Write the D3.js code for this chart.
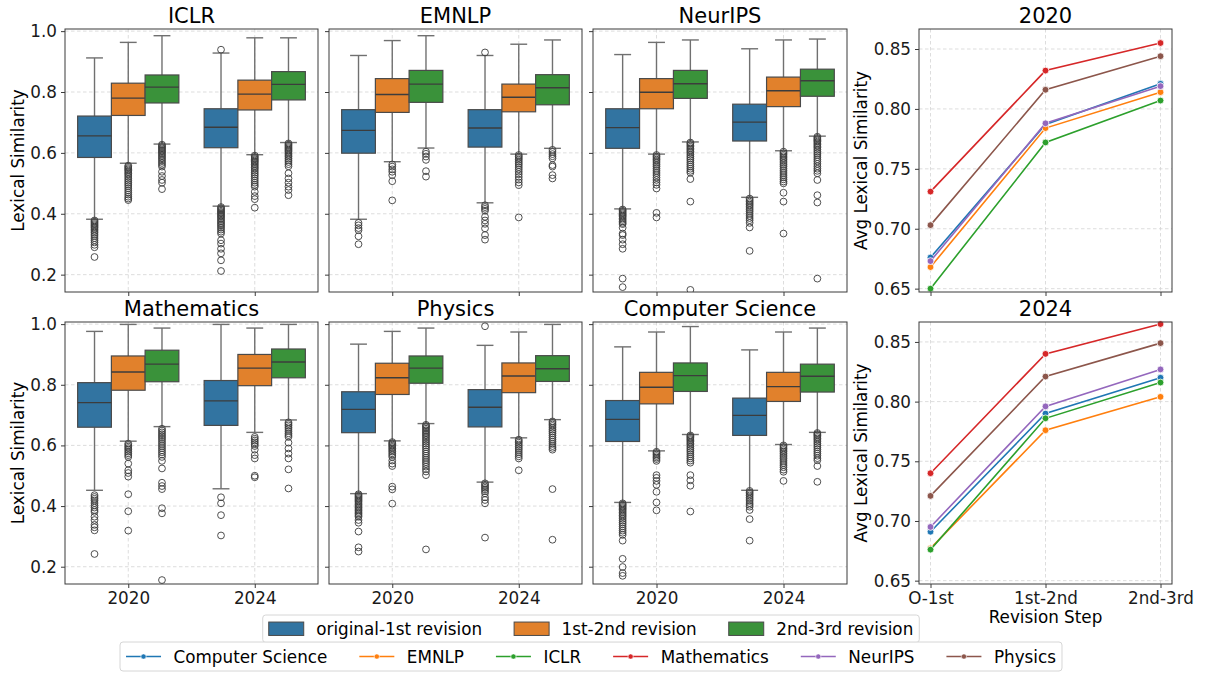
<!DOCTYPE html>
<html>
<head>
<meta charset="utf-8">
<script src="https://cdn.jsdelivr.net/npm/d3@7"></script>
<style>
  html, body { margin: 0; padding: 0; background: #fff; }
  svg { display: block; font-family: "DejaVu Sans", sans-serif; }
</style>
</head>
<body>
<svg id="chart" width="1205" height="673"></svg>
<script>
// ---- data -------------------------------------------------------------
const years = ["2020", "2024"];
const revisions = ["original-1st revision", "1st-2nd revision", "2nd-3rd revision"];
const venues = ["ICLR", "EMNLP", "NeurIPS", "Mathematics", "Physics", "Computer Science"];

// box stats per group: [whiskerLow, q1, median, q3, whiskerHigh]
// group order: 2020 × (rev1, rev2, rev3), 2024 × (rev1, rev2, rev3)
const iclrBoxes = [
  [0.382, 0.585, 0.656, 0.721, 0.912], [0.566, 0.723, 0.780, 0.829, 0.963], [0.629, 0.764, 0.816, 0.856, 0.985],
  [0.425, 0.617, 0.684, 0.745, 0.928], [0.594, 0.741, 0.793, 0.839, 0.978], [0.634, 0.774, 0.825, 0.867, 0.978]
];
const iclrFliers = [
  [0.378, 0.374, 0.370, 0.366, 0.362, 0.358, 0.354, 0.349, 0.344, 0.339, 0.333, 0.327, 0.320, 0.313, 0.306, 0.298, 0.290, 0.258],
  [0.558, 0.554, 0.550, 0.546, 0.542, 0.537, 0.532, 0.527, 0.521, 0.515, 0.509, 0.503, 0.497, 0.491, 0.484, 0.477, 0.470, 0.463, 0.456, 0.450, 0.445],
  [0.627, 0.623, 0.619, 0.615, 0.611, 0.607, 0.603, 0.599, 0.594, 0.589, 0.584, 0.579, 0.573, 0.567, 0.561, 0.555, 0.538, 0.524, 0.511, 0.502, 0.481],
  [0.939, 0.422, 0.418, 0.414, 0.410, 0.406, 0.402, 0.398, 0.394, 0.390, 0.385, 0.380, 0.375, 0.370, 0.365, 0.360, 0.354, 0.348, 0.341, 0.335, 0.313, 0.302, 0.285, 0.270, 0.247, 0.212],
  [0.591, 0.587, 0.583, 0.579, 0.575, 0.571, 0.567, 0.562, 0.557, 0.552, 0.547, 0.541, 0.535, 0.529, 0.523, 0.516, 0.509, 0.502, 0.495, 0.489, 0.472, 0.458, 0.448, 0.420],
  [0.631, 0.627, 0.623, 0.619, 0.615, 0.611, 0.607, 0.603, 0.598, 0.593, 0.588, 0.582, 0.576, 0.570, 0.563, 0.556, 0.533, 0.516, 0.502, 0.489, 0.478, 0.461]
];

const emnlpBoxes = [
  [0.382, 0.599, 0.674, 0.742, 0.920], [0.571, 0.733, 0.792, 0.844, 0.969], [0.616, 0.766, 0.826, 0.871, 0.985],
  [0.436, 0.619, 0.682, 0.742, 0.920], [0.596, 0.735, 0.783, 0.826, 0.957], [0.615, 0.758, 0.814, 0.857, 0.971]
];
const emnlpFliers = [
  [0.370, 0.362, 0.353, 0.346, 0.326, 0.300],
  [0.562, 0.555, 0.546, 0.538, 0.527, 0.507, 0.444],
  [0.604, 0.597, 0.588, 0.577, 0.540, 0.522],
  [0.930, 0.428, 0.422, 0.416, 0.410, 0.390, 0.378, 0.367, 0.352, 0.330, 0.315],
  [0.593, 0.588, 0.583, 0.578, 0.572, 0.566, 0.560, 0.553, 0.546, 0.538, 0.530, 0.521, 0.512, 0.503, 0.494, 0.388],
  [0.610, 0.603, 0.596, 0.589, 0.582, 0.560, 0.555, 0.527, 0.516]
];

const neuripsBoxes = [
  [0.416, 0.615, 0.683, 0.745, 0.923], [0.596, 0.745, 0.799, 0.844, 0.963], [0.636, 0.779, 0.827, 0.871, 0.971],
  [0.454, 0.639, 0.701, 0.760, 0.942], [0.607, 0.752, 0.804, 0.849, 0.971], [0.655, 0.786, 0.837, 0.875, 0.974]
];
const neuripsFliers = [
  [0.414, 0.410, 0.406, 0.402, 0.398, 0.394, 0.390, 0.385, 0.380, 0.375, 0.370, 0.366, 0.354, 0.335, 0.330, 0.315, 0.300, 0.285, 0.187, 0.159],
  [0.593, 0.588, 0.583, 0.578, 0.573, 0.567, 0.561, 0.555, 0.548, 0.541, 0.534, 0.527, 0.519, 0.511, 0.503, 0.495, 0.483, 0.403, 0.388],
  [0.634, 0.630, 0.625, 0.620, 0.615, 0.610, 0.605, 0.600, 0.594, 0.588, 0.582, 0.576, 0.569, 0.562, 0.555, 0.548, 0.541, 0.535, 0.514, 0.440, 0.150],
  [0.450, 0.445, 0.440, 0.435, 0.430, 0.425, 0.419, 0.413, 0.407, 0.400, 0.393, 0.386, 0.379, 0.370, 0.355, 0.278],
  [0.604, 0.599, 0.594, 0.589, 0.584, 0.579, 0.573, 0.567, 0.561, 0.555, 0.548, 0.541, 0.534, 0.527, 0.520, 0.513, 0.506, 0.500, 0.469, 0.440, 0.335],
  [0.653, 0.649, 0.645, 0.641, 0.637, 0.632, 0.627, 0.622, 0.617, 0.611, 0.605, 0.599, 0.593, 0.586, 0.579, 0.572, 0.564, 0.556, 0.548, 0.541, 0.533, 0.511, 0.461, 0.437, 0.187]
];

const mathBoxes = [
  [0.452, 0.660, 0.741, 0.807, 0.976], [0.614, 0.782, 0.842, 0.895, 0.999], [0.662, 0.810, 0.868, 0.914, 0.987],
  [0.457, 0.666, 0.747, 0.814, 0.999], [0.643, 0.797, 0.855, 0.900, 0.987], [0.684, 0.823, 0.875, 0.918, 0.999]
];
const mathFliers = [
  [0.436, 0.430, 0.424, 0.418, 0.410, 0.402, 0.395, 0.387, 0.381, 0.365, 0.354, 0.338, 0.330, 0.320, 0.242],
  [0.606, 0.601, 0.596, 0.591, 0.586, 0.580, 0.574, 0.568, 0.562, 0.540, 0.518, 0.509, 0.497, 0.439, 0.383, 0.319],
  [0.655, 0.649, 0.643, 0.637, 0.631, 0.625, 0.619, 0.612, 0.605, 0.598, 0.591, 0.584, 0.577, 0.570, 0.562, 0.549, 0.524, 0.477, 0.466, 0.456, 0.393, 0.376, 0.156],
  [0.429, 0.409, 0.370, 0.303],
  [0.628, 0.622, 0.616, 0.610, 0.604, 0.598, 0.586, 0.568, 0.557, 0.500, 0.495],
  [0.676, 0.671, 0.666, 0.660, 0.654, 0.647, 0.640, 0.634, 0.628, 0.609, 0.590, 0.573, 0.557, 0.521, 0.458]
];

const physicsBoxes = [
  [0.441, 0.642, 0.719, 0.777, 0.934], [0.615, 0.768, 0.823, 0.871, 0.976], [0.672, 0.805, 0.855, 0.895, 0.987],
  [0.479, 0.661, 0.726, 0.784, 0.930], [0.625, 0.774, 0.829, 0.872, 0.974], [0.685, 0.811, 0.853, 0.896, 0.999]
];
const physicsFliers = [
  [0.439, 0.435, 0.431, 0.427, 0.423, 0.419, 0.415, 0.410, 0.405, 0.400, 0.395, 0.390, 0.385, 0.380, 0.375, 0.370, 0.365, 0.354, 0.345, 0.316, 0.264, 0.250],
  [0.611, 0.607, 0.603, 0.599, 0.595, 0.590, 0.585, 0.580, 0.574, 0.568, 0.562, 0.550, 0.540, 0.532, 0.464, 0.455, 0.408],
  [0.668, 0.664, 0.660, 0.655, 0.650, 0.645, 0.640, 0.635, 0.630, 0.624, 0.618, 0.612, 0.606, 0.600, 0.594, 0.587, 0.580, 0.573, 0.566, 0.559, 0.552, 0.545, 0.538, 0.530, 0.522, 0.514, 0.502, 0.257],
  [0.993, 0.475, 0.470, 0.465, 0.460, 0.455, 0.449, 0.442, 0.429, 0.420, 0.409, 0.296],
  [0.619, 0.614, 0.609, 0.603, 0.597, 0.591, 0.585, 0.578, 0.571, 0.564, 0.557, 0.518],
  [0.679, 0.674, 0.669, 0.664, 0.658, 0.652, 0.646, 0.640, 0.633, 0.626, 0.619, 0.612, 0.605, 0.598, 0.592, 0.586, 0.456, 0.289]
];

const csBoxes = [
  [0.412, 0.613, 0.686, 0.748, 0.925], [0.582, 0.737, 0.792, 0.841, 0.974], [0.636, 0.778, 0.830, 0.872, 0.992],
  [0.452, 0.633, 0.699, 0.756, 0.915], [0.603, 0.745, 0.794, 0.841, 0.974], [0.643, 0.776, 0.828, 0.868, 0.987]
];
const csFliers = [
  [0.409, 0.405, 0.401, 0.397, 0.393, 0.389, 0.384, 0.379, 0.374, 0.369, 0.364, 0.358, 0.352, 0.346, 0.340, 0.333, 0.326, 0.319, 0.312, 0.305, 0.286, 0.226, 0.199, 0.179, 0.170],
  [0.579, 0.575, 0.570, 0.565, 0.560, 0.555, 0.549, 0.502, 0.493, 0.483, 0.470, 0.447, 0.412, 0.386],
  [0.633, 0.629, 0.625, 0.621, 0.617, 0.612, 0.607, 0.602, 0.596, 0.590, 0.584, 0.578, 0.571, 0.564, 0.557, 0.550, 0.543, 0.502, 0.485, 0.467, 0.382],
  [0.450, 0.445, 0.440, 0.435, 0.429, 0.423, 0.417, 0.410, 0.404, 0.398, 0.387, 0.357, 0.286],
  [0.600, 0.595, 0.590, 0.585, 0.580, 0.574, 0.568, 0.562, 0.556, 0.549, 0.542, 0.535, 0.528, 0.520, 0.513, 0.483],
  [0.641, 0.637, 0.633, 0.628, 0.623, 0.618, 0.612, 0.606, 0.600, 0.594, 0.587, 0.580, 0.573, 0.566, 0.558, 0.551, 0.532, 0.480]
];

const boxTicks = [0.2, 0.4, 0.6, 0.8, 1.0];

// average lexical similarity per revision step
const steps = ["O-1st", "1st-2nd", "2nd-3rd"];
const fields = ["Computer Science", "EMNLP", "ICLR", "Mathematics", "NeurIPS", "Physics"];
const avg2020 = [
  [0.676, 0.787, 0.821],
  [0.668, 0.784, 0.814],
  [0.650, 0.772, 0.807],
  [0.731, 0.832, 0.855],
  [0.673, 0.788, 0.819],
  [0.703, 0.816, 0.844]
];
const avg2024 = [
  [0.691, 0.790, 0.820],
  [0.677, 0.776, 0.804],
  [0.676, 0.786, 0.816],
  [0.740, 0.840, 0.865],
  [0.695, 0.796, 0.827],
  [0.721, 0.821, 0.849]
];
const lineTicks = [0.65, 0.70, 0.75, 0.80, 0.85];

// ---- styling ----------------------------------------------------------
const boxFill = ["#3274a1", "#e1812c", "#3a923a"];
const lineColor = ["#1f77b4", "#ff7f0e", "#2ca02c", "#d62728", "#9467bd", "#8c564b"];
const boxLine = "#4a4a4a";
const whiskerLine = "#707070";
const gridColor = "#d4d4d4";
const spineColor = "#3a3a3a";
const fontSize = 16.8;
const titleSize = 21;

const svg = d3.select("#chart");
const defs = svg.append("defs");

const boxCols = [[65, 318], [329, 582], [593, 847]];
const rowsY = [[29, 292], [322, 584]];
const lineCols = [919, 1172];

const panels = [
  { name: venues[0], boxes: iclrBoxes, fliers: iclrFliers },
  { name: venues[1], boxes: emnlpBoxes, fliers: emnlpFliers },
  { name: venues[2], boxes: neuripsBoxes, fliers: neuripsFliers },
  { name: venues[3], boxes: mathBoxes, fliers: mathFliers },
  { name: venues[4], boxes: physicsBoxes, fliers: physicsFliers },
  { name: venues[5], boxes: csBoxes, fliers: csFliers }
];

function styleAxis(g) {
  g.select(".domain").remove();
  g.selectAll(".tick line").attr("stroke", spineColor).attr("stroke-width", 1);
  g.selectAll(".tick text").attr("fill", "#1a1a1a").attr("font-size", fontSize)
    .attr("font-family", '"DejaVu Sans", sans-serif');
}

function drawBoxPanel(p, idx) {
  const col = idx % 3, row = Math.floor(idx / 3);
  const [x0, x1] = boxCols[col];
  const [y0, y1] = rowsY[row];

  const x = d3.scaleLinear().domain([-0.5, 1.5]).range([x0, x1]);
  const hue = d3.scaleBand().domain(revisions).range([-0.4, 0.4]);
  const y = d3.scaleLinear().domain([0.143, 1.007]).range([y1, y0]);

  const g = svg.append("g");
  const clipId = "clip-box-" + idx;
  defs.append("clipPath").attr("id", clipId).append("rect")
    .attr("x", x0).attr("y", y0).attr("width", x1 - x0).attr("height", y1 - y0);

  // grid
  const grid = g.append("g").attr("stroke", gridColor).attr("stroke-width", 0.8)
    .attr("stroke-dasharray", "3.5,2.5");
  grid.selectAll(".gy").data(boxTicks).join("line")
    .attr("x1", x0).attr("x2", x1).attr("y1", d => y(d)).attr("y2", d => y(d));
  grid.selectAll(".gx").data(years).join("line")
    .attr("x1", (d, i) => x(i)).attr("x2", (d, i) => x(i)).attr("y1", y0).attr("y2", y1);

  const marks = g.append("g").attr("clip-path", `url(#${clipId})`);
  const bw = x(hue.bandwidth()) - x(0);
  const capW = bw * 0.5;

  years.forEach((yr, i) => {
    revisions.forEach((rev, j) => {
      const k = i * 3 + j;
      const [lo, q1, med, q3, hi] = p.boxes[k];
      const cx = x(i + hue(rev) + hue.bandwidth() / 2);
      const wg = marks.append("g").attr("stroke", whiskerLine).attr("stroke-width", 1.4);
      wg.append("line").attr("x1", cx).attr("x2", cx).attr("y1", y(lo)).attr("y2", y(q1));
      wg.append("line").attr("x1", cx).attr("x2", cx).attr("y1", y(q3)).attr("y2", y(hi));
      wg.append("line").attr("x1", cx - capW / 2).attr("x2", cx + capW / 2).attr("y1", y(lo)).attr("y2", y(lo));
      wg.append("line").attr("x1", cx - capW / 2).attr("x2", cx + capW / 2).attr("y1", y(hi)).attr("y2", y(hi));
      marks.append("rect")
        .attr("x", cx - bw / 2).attr("width", bw)
        .attr("y", y(q3)).attr("height", y(q1) - y(q3))
        .attr("fill", boxFill[j]).attr("stroke", boxLine).attr("stroke-width", 1.2);
      marks.append("line")
        .attr("x1", cx - bw / 2).attr("x2", cx + bw / 2).attr("y1", y(med)).attr("y2", y(med))
        .attr("stroke", "#3c3c3c").attr("stroke-width", 1.4);
      marks.append("g").selectAll("circle").data(p.fliers[k]).join("circle")
        .attr("cx", cx).attr("cy", d => y(d)).attr("r", 3.4)
        .attr("fill", "none").attr("stroke", "#3c3c3c").attr("stroke-width", 0.9);
    });
  });

  // axes
  const yAxis = d3.axisLeft(y).tickValues(boxTicks).tickSize(4).tickPadding(4)
    .tickFormat(col === 0 ? d3.format(".1f") : () => "");
  g.append("g").attr("transform", `translate(${x0},0)`).call(yAxis).call(styleAxis);
  const xAxis = d3.axisBottom(x).tickValues([0, 1]).tickSize(4).tickPadding(4)
    .tickFormat(row === 1 ? (d => years[d]) : () => "");
  g.append("g").attr("transform", `translate(0,${y1})`).call(xAxis).call(styleAxis);

  // spines
  g.append("rect").attr("x", x0).attr("y", y0).attr("width", x1 - x0).attr("height", y1 - y0)
    .attr("fill", "none").attr("stroke", spineColor).attr("stroke-width", 1);

  g.append("text").attr("x", (x0 + x1) / 2).attr("y", y0 - 6)
    .attr("text-anchor", "middle").attr("font-size", titleSize).attr("fill", "#000").text(p.name);

  if (col === 0) {
    g.append("text")
      .attr("transform", `translate(24,${(y0 + y1) / 2}) rotate(-90)`)
      .attr("text-anchor", "middle").attr("font-size", fontSize).attr("fill", "#000")
      .text("Lexical Similarity");
  }
}

panels.forEach(drawBoxPanel);

function drawLinePanel(title, values, row) {
  const [x0, x1] = lineCols;
  const [y0, y1] = rowsY[row];
  const x = d3.scaleLinear().domain([-0.1, 2.1]).range([x0, x1]);
  const y = d3.scaleLinear().domain([0.6472, 0.8667]).range([y1, y0]);
  const g = svg.append("g");

  const grid = g.append("g").attr("stroke", gridColor).attr("stroke-width", 0.8)
    .attr("stroke-dasharray", "3.5,2.5");
  grid.selectAll(".gy").data(lineTicks).join("line")
    .attr("x1", x0).attr("x2", x1).attr("y1", d => y(d)).attr("y2", d => y(d));
  grid.selectAll(".gx").data(steps).join("line")
    .attr("x1", (d, i) => x(i)).attr("x2", (d, i) => x(i)).attr("y1", y0).attr("y2", y1);

  const line = d3.line().x((d, i) => x(i)).y(d => y(d));
  fields.forEach((f, k) => {
    g.append("path").datum(values[k]).attr("d", line)
      .attr("fill", "none").attr("stroke", lineColor[k]).attr("stroke-width", 1.6);
    g.append("g").selectAll("circle").data(values[k]).join("circle")
      .attr("cx", (d, i) => x(i)).attr("cy", d => y(d)).attr("r", 3.4)
      .attr("fill", lineColor[k]).attr("stroke", "#fff").attr("stroke-width", 0.8);
  });

  const yAxis = d3.axisLeft(y).tickValues(lineTicks).tickSize(4).tickPadding(4).tickFormat(d3.format(".2f"));
  g.append("g").attr("transform", `translate(${x0},0)`).call(yAxis).call(styleAxis);
  const xAxis = d3.axisBottom(x).tickValues([0, 1, 2]).tickSize(4).tickPadding(4)
    .tickFormat(row === 1 ? (d => steps[d]) : () => "");
  g.append("g").attr("transform", `translate(0,${y1})`).call(xAxis).call(styleAxis);

  g.append("rect").attr("x", x0).attr("y", y0).attr("width", x1 - x0).attr("height", y1 - y0)
    .attr("fill", "none").attr("stroke", spineColor).attr("stroke-width", 1);

  g.append("text").attr("x", (x0 + x1) / 2).attr("y", y0 - 6)
    .attr("text-anchor", "middle").attr("font-size", titleSize).attr("fill", "#000").text(title);
  g.append("text")
    .attr("transform", `translate(867,${(y0 + y1) / 2}) rotate(-90)`)
    .attr("text-anchor", "middle").attr("font-size", fontSize).attr("fill", "#000")
    .text("Avg Lexical Similarity");
  if (row === 1) {
    g.append("text").attr("x", (x0 + x1) / 2).attr("y", 623)
      .attr("text-anchor", "middle").attr("font-size", fontSize).attr("fill", "#000")
      .text("Revision Step");
  }
}

drawLinePanel(years[0], avg2020, 0);
drawLinePanel(years[1], avg2024, 1);

// ---- legends ----------------------------------------------------------
function drawLegend(labels, top, height, drawHandle) {
  const g = svg.append("g");
  const frame = g.append("rect");
  const items = g.append("g");
  const handleW = 35, pad = 12.5, colGap = 32, side = 6;
  let cursor = side;
  labels.forEach((lab, k) => {
    const it = items.append("g").attr("transform", `translate(${cursor},0)`);
    drawHandle(it, k, handleW, top + height / 2);
    const t = it.append("text").attr("x", handleW + pad).attr("y", top + height / 2 + 6)
      .attr("font-size", fontSize).attr("fill", "#000").text(lab);
    cursor += handleW + pad + t.node().getComputedTextLength() + colGap;
  });
  const total = cursor - colGap + side;
  const left = 591 - total / 2;
  items.attr("transform", `translate(${left},0)`);
  frame.attr("x", left).attr("y", top).attr("width", total).attr("height", height)
    .attr("rx", 3).attr("fill", "#fff").attr("fill-opacity", 0.85)
    .attr("stroke", "#d6d6d6").attr("stroke-width", 1);
}

drawLegend(revisions, 615, 27.5, (it, k, w, cy) => {
  it.append("rect").attr("x", 0).attr("y", cy - 6.7).attr("width", w).attr("height", 13.4)
    .attr("fill", boxFill[k]).attr("stroke", boxLine).attr("stroke-width", 1);
});

drawLegend(fields, 642, 29, (it, k, w, cy) => {
  it.append("line").attr("x1", 0).attr("x2", w).attr("y1", cy).attr("y2", cy)
    .attr("stroke", lineColor[k]).attr("stroke-width", 1.6);
  it.append("circle").attr("cx", w / 2).attr("cy", cy).attr("r", 2.6)
    .attr("fill", lineColor[k]).attr("stroke", "#fff").attr("stroke-width", 0.6);
});
</script>
</body>
</html>
